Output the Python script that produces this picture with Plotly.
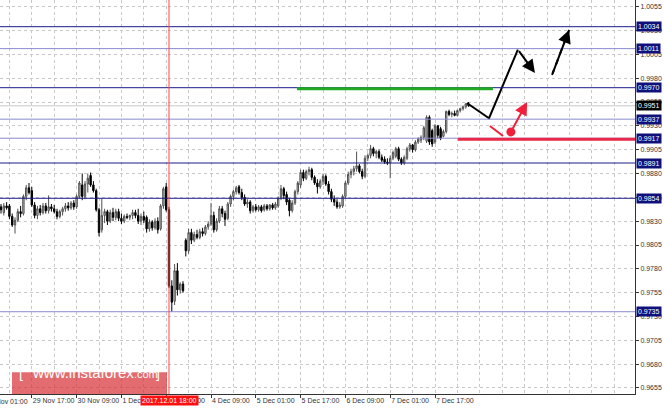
import plotly.graph_objects as go

# H1 candles, 29 Nov 2017 06:00 -> 8 Dec 2017 05:00 (bar 0 = 29 Nov 01:00)
first_bar = 5
opens = [
    .9845, .9839, .9846, .9846, .9835, .9826, .9831, .9840, .9838, .9856,
    .9865, .9862, .9847, .9836, .9843, .9839, .9846, .9841, .9845, .9843,
    .9840, .9835, .9840, .9843, .9846, .9844, .9849, .9845, .9856, .9868,
    .9856, .9869, .9878, .9868, .9862, .9842, .9821, .9836, .9840, .9830,
    .9839, .9834, .9840, .9833, .9830, .9835, .9834, .9836, .9839, .9836,
    .9830, .9835, .9834, .9822, .9829, .9823, .9830, .9822, .9846, .9866,
    .9842, .9762, .9746, .9778, .9758, .9764, .9810, .9799, .9818, .9810,
    .9816, .9813, .9819, .9817, .9824, .9827, .9836, .9821, .9830, .9843,
    .9838, .9833, .9848, .9856, .9861, .9866, .9860, .9855, .9848, .9850,
    .9841, .9845, .9842, .9845, .9842, .9846, .9843, .9847, .9844, .9846,
    .9854, .9864, .9858, .9852, .9841, .9849, .9861, .9868, .9881, .9875,
    .9882, .9884, .9876, .9870, .9866, .9872, .9877, .9869, .9861, .9853,
    .9850, .9845, .9846, .9856, .9870, .9879, .9882, .9885, .9888, .9882,
    .9877, .9896, .9899, .9906, .9901, .9903, .9897, .9895, .9892, .9891,
    .9896, .9898, .9906, .9895, .9891, .9896, .9906, .9910, .9905, .9913,
    .9915, .9918, .9914, .9939, .9925, .9913, .9930, .9927, .9919, .9924,
    .9945, .9942, .9943, .9941, .9946, .9948, .9950, .9953,
]
highs = [
    .9848, .9849, .9850, .9848, .9838, .9834, .9843, .9846, .9858, .9868,
    .9870, .9866, .9850, .9846, .9847, .9849, .9849, .9857, .9848, .9847,
    .9843, .9842, .9845, .9849, .9850, .9851, .9852, .9858, .9872, .9880,
    .9872, .9880, .9881, .9872, .9864, .9844, .9854, .9843, .9842, .9842,
    .9844, .9843, .9843, .9838, .9837, .9838, .9837, .9842, .9842, .9843,
    .9838, .9840, .9836, .9832, .9831, .9833, .9834, .9848, .9866, .9870,
    .9845, .9768, .9785, .9786, .9766, .9767, .9812, .9822, .9822, .9819,
    .9821, .9822, .9823, .9826, .9830, .9849, .9840, .9833, .9846, .9846,
    .9841, .9850, .9858, .9863, .9867, .9868, .9864, .9858, .9853, .9852,
    .9847, .9848, .9847, .9847, .9848, .9848, .9848, .9849, .9850, .9856,
    .9868, .9866, .9861, .9854, .9852, .9863, .9872, .9884, .9884, .9884,
    .9887, .9886, .9878, .9874, .9874, .9880, .9879, .9872, .9864, .9857,
    .9853, .9850, .9858, .9872, .9882, .9885, .9888, .9903, .9890, .9885,
    .9899, .9901, .9910, .9908, .9905, .9905, .9900, .9898, .9896, .9899,
    .9904, .9908, .9908, .9897, .9899, .9908, .9912, .9911, .9915, .9918,
    .9920, .9930, .9941, .9941, .9927, .9932, .9931, .9929, .9926, .9946,
    .9947, .9945, .9946, .9947, .9949, .9951, .9954, .9955,
]
lows = [
    .9838, .9836, .9842, .9832, .9824, .9817, .9829, .9834, .9836, .9852,
    .9858, .9845, .9833, .9832, .9836, .9837, .9838, .9838, .9840, .9838,
    .9832, .9833, .9836, .9840, .9841, .9842, .9842, .9843, .9854, .9852,
    .9853, .9860, .9866, .9860, .9840, .9814, .9818, .9828, .9826, .9828,
    .9830, .9831, .9830, .9827, .9828, .9832, .9831, .9832, .9833, .9827,
    .9826, .9828, .9818, .9819, .9820, .9821, .9817, .9820, .9843, .9840,
    .9760, .9735, .9742, .9752, .9754, .9755, .9793, .9796, .9806, .9808,
    .9811, .9811, .9814, .9815, .9821, .9825, .9818, .9819, .9828, .9834,
    .9825, .9831, .9845, .9852, .9858, .9858, .9852, .9846, .9844, .9838,
    .9839, .9840, .9840, .9839, .9840, .9841, .9841, .9842, .9842, .9844,
    .9852, .9853, .9847, .9835, .9839, .9847, .9858, .9865, .9872, .9873,
    .9878, .9873, .9868, .9859, .9864, .9868, .9867, .9858, .9850, .9846,
    .9843, .9843, .9844, .9854, .9868, .9875, .9878, .9882, .9880, .9874,
    .9875, .9893, .9896, .9898, .9896, .9895, .9892, .9890, .9889, .9875,
    .9894, .9896, .9893, .9889, .9889, .9894, .9903, .9902, .9903, .9911,
    .9912, .9915, .9912, .9910, .9908, .9911, .9917, .9915, .9918, .9922,
    .9940, .9939, .9940, .9940, .9944, .9946, .9948, .9950,
]
closes = [
    .9842, .9846, .9844, .9835, .9826, .9831, .9840, .9838, .9856, .9865,
    .9860, .9847, .9836, .9843, .9839, .9846, .9841, .9845, .9843, .9840,
    .9835, .9840, .9843, .9846, .9844, .9849, .9845, .9856, .9870, .9856,
    .9869, .9875, .9868, .9862, .9842, .9818, .9836, .9840, .9830, .9839,
    .9834, .9840, .9833, .9830, .9835, .9834, .9836, .9839, .9836, .9830,
    .9835, .9831, .9822, .9829, .9823, .9830, .9821, .9846, .9864, .9842,
    .9762, .9745, .9778, .9758, .9764, .9757, .9799, .9818, .9810, .9816,
    .9813, .9819, .9817, .9824, .9827, .9836, .9821, .9830, .9843, .9838,
    .9832, .9848, .9856, .9861, .9865, .9860, .9855, .9848, .9850, .9841,
    .9845, .9842, .9845, .9841, .9846, .9843, .9847, .9844, .9848, .9854,
    .9864, .9857, .9850, .9841, .9849, .9861, .9870, .9881, .9875, .9882,
    .9884, .9876, .9870, .9866, .9872, .9877, .9869, .9861, .9853, .9850,
    .9845, .9847, .9856, .9870, .9879, .9882, .9885, .9888, .9882, .9877,
    .9896, .9899, .9906, .9901, .9903, .9897, .9894, .9892, .9891, .9896,
    .9902, .9906, .9895, .9891, .9897, .9906, .9910, .9905, .9913, .9916,
    .9918, .9928, .9939, .9913, .9911, .9930, .9920, .9917, .9924, .9945,
    .9942, .9943, .9941, .9946, .9948, .9950, .9953, .9951,
]

tick_bars = [16, 32, 48, 64, 80, 96, 112, 128, 144, 160]
tick_labels = ["29 Nov 17:00", "30 Nov 09:00", "1 Dec 01:00", "1 Dec 17:00", "4 Dec 09:00",
               "5 Dec 01:00", "5 Dec 17:00", "6 Dec 09:00", "7 Dec 01:00", "7 Dec 17:00"]
first_label = "29 Nov 01:00"
price_ticks = [1.0055, 1.0030, 1.0005, 0.9980, 0.9955, 0.9930, 0.9905, 0.9880, 0.9855,
               0.9830, 0.9805, 0.9780, 0.9755, 0.9730, 0.9705, 0.9680, 0.9655]

levels = [1.0034, 1.0011, 0.9970, 0.9937, 0.9917, 0.9891, 0.9854, 0.9735]
level_strong = [True, False, True, False, False, True, True, False]
current_price = 0.9951

signal_bar = 65
signal_label = "2017.12.01 18:00"

resistance_bars = [110.7, 180.7]
resistance_price = 0.9969
support_bars = [168.2, 232]
support_price = 0.9916

main_path_bars = [171.4, 179.3, 189.6]
main_path_prices = [0.9954, 0.9938, 1.0010]
main_head_bars = [189.6, 195.7]
main_head_prices = [1.0010, 0.99855]
dash_path_bars = [201.8, 207.9]
dash_path_prices = [0.99834, 1.00306]
alt_dip_bars = [179.6, 184.3]
alt_dip_prices = [0.99299, 0.99194]
alt_dot_bar = 187.1
alt_dot_price = 0.99236
alt_head_bars = [187.1, 192.9]
alt_head_prices = [0.99236, 0.99550]

FONT = "Liberation Sans"
bars = [first_bar + k for k in range(len(opens))]

fig = go.Figure()

fig.add_trace(go.Candlestick(
    x=bars, open=opens, high=highs, low=lows, close=closes,
    increasing=dict(line=dict(color="#505050", width=1), fillcolor="#c8c8c8"),
    decreasing=dict(line=dict(color="#000000", width=1), fillcolor="#000000"),
    whiskerwidth=0, showlegend=False, hoverinfo="skip"
))

# forecast drawing
fig.add_trace(go.Scatter(x=main_path_bars, y=main_path_prices, mode="lines",
                         line=dict(color="black", width=2), showlegend=False, hoverinfo="skip"))
fig.add_trace(go.Scatter(x=dash_path_bars, y=dash_path_prices, mode="lines",
                         line=dict(color="black", width=2, dash="6px,5px"),
                         showlegend=False, hoverinfo="skip"))
fig.add_trace(go.Scatter(x=alt_dip_bars, y=alt_dip_prices, mode="lines",
                         line=dict(color="#f0203a", width=2), showlegend=False, hoverinfo="skip"))
fig.add_trace(go.Scatter(x=[alt_dot_bar], y=[alt_dot_price], mode="markers",
                         marker=dict(color="#f0203a", size=9), showlegend=False, hoverinfo="skip"))

for hb, hp, col in [(main_head_bars, main_head_prices, "black"),
                    (dash_path_bars, dash_path_prices, "black"),
                    (alt_head_bars, alt_head_prices, "#f0203a")]:
    fig.add_annotation(x=hb[1], y=hp[1], ax=hb[0], ay=hp[0], xref="x", yref="y",
                       axref="x", ayref="y", showarrow=True, arrowhead=2, arrowsize=1.3,
                       arrowwidth=2, arrowcolor=col, text="")

# horizontal levels
fig.add_hline(y=current_price, line=dict(color="#c8c8c8", width=1), layer="below")
for lv, strong in zip(levels, level_strong):
    fig.add_hline(y=lv, line=dict(color="#1c1c8a" if strong else "#8a8ad0", width=1))
    fig.add_annotation(x=1, y=lv, xref="paper", yref="y", xanchor="left", xshift=1,
                       text=f"{lv:.4f}", showarrow=False, bgcolor="#10107a",
                       font=dict(family=FONT, size=7, color="white"), borderpad=1)
fig.add_annotation(x=1, y=current_price, xref="paper", yref="y", xanchor="left", xshift=1,
                   text=f"{current_price:.4f}", showarrow=False, bgcolor="black",
                   font=dict(family=FONT, size=7, color="white"), borderpad=1)

fig.add_shape(type="line", x0=resistance_bars[0], x1=resistance_bars[1],
              y0=resistance_price, y1=resistance_price, xref="x", yref="y",
              line=dict(color="#22aa22", width=3))
fig.add_shape(type="line", x0=support_bars[0], x1=support_bars[1],
              y0=support_price, y1=support_price, xref="x", yref="y",
              line=dict(color="#e8284a", width=3))

# signal bar
fig.add_vline(x=signal_bar, line=dict(color="rgba(255,70,70,0.5)", width=2))
fig.add_annotation(x=signal_bar, y=0, xref="x", yref="paper", yanchor="top", yshift=-1,
                   text=signal_label, showarrow=False, bgcolor="#ff1010",
                   font=dict(family=FONT, size=7, color="white"), borderpad=1)
fig.add_annotation(x=-16 / 635, y=0, xref="paper", yref="paper", xanchor="left",
                   yanchor="top", yshift=-2, text=first_label, showarrow=False,
                   font=dict(family=FONT, size=7, color="#333"))

# watermark
fig.add_shape(type="rect", xref="paper", yref="paper", x0=12 / 635, x1=167 / 635,
              y0=0, y1=0.055, fillcolor="rgba(214,45,50,0.7)", line=dict(width=0))
fig.add_annotation(x=17 / 635, y=0.027, xref="paper", yref="paper", xanchor="left",
                   showarrow=False, text="[", font=dict(family=FONT, size=14, color="white"))
fig.add_annotation(x=30 / 635, y=0.027, xref="paper", yref="paper", xanchor="left",
                   showarrow=False,
                   text="www.instaforex<span style='font-size:11px'>.com</span>",
                   font=dict(family=FONT, size=15, color="white"))
fig.add_annotation(x=162 / 635, y=0.027, xref="paper", yref="paper", xanchor="right",
                   showarrow=False, text="]", font=dict(family=FONT, size=14, color="white"))

fig.update_layout(
    width=664, height=409,
    margin=dict(l=0, r=29, t=0, b=15, autoexpand=False),
    paper_bgcolor="white", plot_bgcolor="white",
    font=dict(family=FONT, size=7, color="#333"),
    showlegend=False,
    xaxis=dict(
        range=[4.64, 231.43], rangeslider=dict(visible=False), automargin=False,
        tickmode="array", tickvals=tick_bars, ticktext=tick_labels, tickangle=0,
        ticklabelposition="outside right", ticks="outside", ticklen=3, tickcolor="#333",
        showgrid=True, gridcolor="#c8c8c8", griddash="3px,3px", gridwidth=1,
        minor=dict(tickmode="linear", tick0=0, dtick=8, showgrid=True,
                   gridcolor="#c8c8c8", griddash="3px,3px", ticks=""),
        showline=True, linecolor="#333", linewidth=1, zeroline=False,
    ),
    yaxis=dict(
        range=[0.96487, 1.00620], side="right", automargin=False,
        tickmode="array", tickvals=price_ticks, ticktext=[f"{p:.4f}" for p in price_ticks],
        ticks="outside", ticklen=3, tickcolor="#333",
        showgrid=True, gridcolor="#c8c8c8", griddash="3px,3px", gridwidth=1,
        showline=True, linecolor="#333", linewidth=1, zeroline=False,
    ),
)

# drop the browser's default 8px body margin so the figure sits at the page corner
fig.write_html("out.html", config={"displayModeBar": False},
               post_script="document.body.style.margin='0';")
